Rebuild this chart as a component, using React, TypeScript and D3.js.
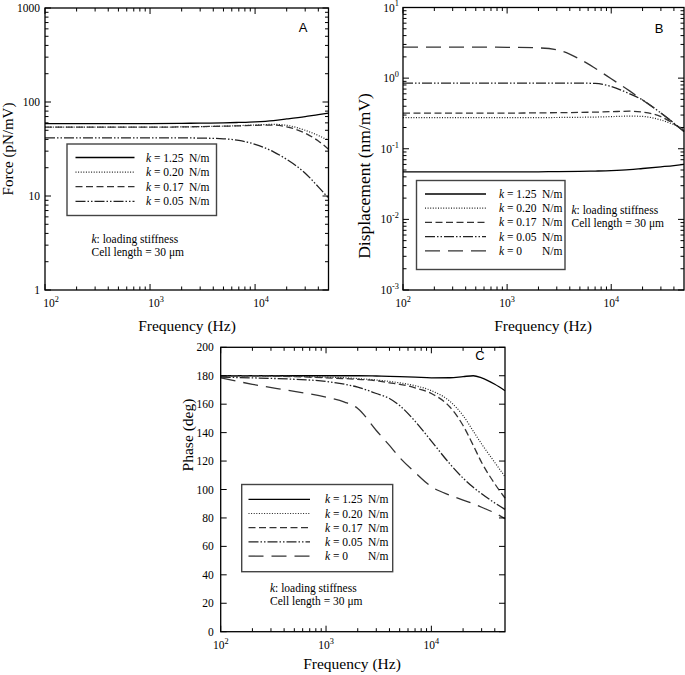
import React from 'react';
import * as d3 from 'd3';

// ---------- data ----------
const FREQ_AB = [100, 200, 500, 1000, 2000, 3000, 5000, 7000, 10000, 15000, 20000, 30000, 40000, 50000];

const FORCE_K125 = [59, 59, 59, 59, 59.3, 59.6, 60, 60.6, 61.5, 63.5, 66, 70, 73.5, 76];
const FORCE_K020 = [54, 54, 54, 54, 54.3, 54.7, 55.3, 56, 57, 57.8, 56.5, 50, 44, 39];
const FORCE_K017 = [54, 54, 54, 54, 54.3, 54.7, 55.3, 55.8, 56.5, 56.8, 54.5, 46.5, 38.5, 31.5];
const FORCE_K005 = [41.5, 41.5, 41.5, 41.5, 41.5, 41.3, 40.6, 39, 35.5, 29.5, 24.5, 17.5, 12.5, 9.5];

const DISP_K125 = [0.047, 0.047, 0.047, 0.047, 0.0472, 0.0474, 0.0478, 0.0483, 0.049, 0.0505, 0.0525, 0.0555, 0.0578, 0.06];
const DISP_K020 = [0.275, 0.275, 0.275, 0.275, 0.276, 0.277, 0.279, 0.281, 0.285, 0.29, 0.287, 0.255, 0.22, 0.19];
const DISP_K017 = [0.32, 0.32, 0.32, 0.32, 0.322, 0.324, 0.327, 0.33, 0.335, 0.34, 0.33, 0.285, 0.225, 0.18];
const DISP_K005 = [0.85, 0.85, 0.85, 0.85, 0.85, 0.85, 0.85, 0.84, 0.76, 0.6, 0.49, 0.32, 0.23, 0.175];
const DISP_K0 = [2.75, 2.75, 2.75, 2.73, 2.68, 2.52, 1.85, 1.38, 0.98, 0.66, 0.49, 0.32, 0.23, 0.175];

const FREQ_C = [100, 200, 500, 1000, 1500, 2000, 3000, 4000, 5000, 7000, 10000, 15000, 20000, 25000, 30000, 40000, 50000];
const PHASE_K125 = [180, 180, 180, 180, 180, 180, 179.8, 179.6, 179.4, 179, 178.5, 178.6, 179.4, 180, 178.5, 174, 169.5];
const PHASE_K020 = [180, 180, 179.6, 179, 178.6, 178, 177, 176, 175, 173, 169.5, 162, 152, 141, 132, 119, 109];
const PHASE_K017 = [180, 180, 179.4, 178.5, 178, 177.5, 176.5, 175, 174, 171.5, 167.5, 158, 145, 131, 119, 104, 94];
const PHASE_K005 = [179, 178.5, 177.5, 176, 174, 172, 167.5, 164, 159, 148, 134, 118, 108, 101.5, 97, 90.5, 86];
const PHASE_K0 = [178.5, 174, 169, 165, 161.5, 157, 141.5, 131, 122.5, 112, 102, 96, 92.6, 90, 87.5, 83.5, 79.5];

const K_LABELS = ['1.25', '0.20', '0.17', '0.05', '0'];
const A_TICKS = [1, 10, 100, 1000];
const B_EXPONENTS = [-3, -2, -1, 0, 1];
const C_TICKS = [0, 20, 40, 60, 80, 100, 120, 140, 160, 180, 200];
const X_EXPONENTS = [2, 3, 4];

// ---------- styles ----------
const DASHES = [undefined, '1,1.6', '7,3.5', '10,2,1.5,2,1.5,2', '15,8'];
const COLORS = ['#000', '#222', '#333', '#222', '#333'];
const SERIF = "'Liberation Serif', 'Times New Roman', Times, serif";
const SANS = "'Liberation Sans', Arial, sans-serif";

type Series = { xs: number[]; ys: number[]; idx: number };

function logMinor(lo: number, hi: number) {
  const minor: number[] = [];
  for (let e = Math.floor(Math.log10(lo)); e <= Math.ceil(Math.log10(hi)); e++) {
    const p = Math.pow(10, e);
    for (let m = 2; m <= 9; m++) {
      const v = m * p;
      if (v > lo * 1.001 && v < hi * 0.999) minor.push(v);
    }
  }
  return minor;
}

function Pow10({ x, y, e, anchor, size }: { x: number; y: number; e: number; anchor: string; size: number }) {
  return (
    <text x={x} y={y} textAnchor={anchor as any} style={{ fontFamily: SERIF }} fontSize={size} fill="#000">
      10<tspan dy={-size * 0.45} fontSize={size * 0.72}>{e}</tspan>
    </text>
  );
}

type PanelProps = {
  box: { x0: number; x1: number; y0: number; y1: number };
  yLog: boolean;
  yDomain: [number, number];
  series: Series[];
  yTickNode: (y: (v: number) => number) => React.ReactNode;
  yMajor: number[];
  yMinor: number[];
  xLabelDx: number;
  letter: string;
  letterPos: [number, number];
  yTitle: string;
  yTitlePos: [number, number];
  yTitleSize: number;
  xTitlePos: [number, number];
  legend: { x0: number; y0: number; x1: number; y1: number; lineX0: number; lineX1: number; textX: number; rowY0: number; rowDy: number; n: number };
  note: [number, number];
};

function Panel(p: PanelProps) {
  const { box } = p;
  const x = d3.scaleLog().domain([100, 50000]).range([box.x0, box.x1]);
  const y: any = p.yLog
    ? d3.scaleLog().domain(p.yDomain).range([box.y1, box.y0])
    : d3.scaleLinear().domain(p.yDomain).range([box.y1, box.y0]);
  const line = d3
    .line<[number, number]>()
    .x((d) => x(d[0]))
    .y((d) => y(d[1]))
    .curve(d3.curveMonotoneX);
  const xMajor = X_EXPONENTS.map((e) => Math.pow(10, e));
  const xMinor = logMinor(100, 50000);
  const MJ = 6;
  const MN = 3.5;
  const tickStroke = { stroke: '#000', strokeWidth: 1 };
  const lg = p.legend;
  const serif = { fontFamily: SERIF };
  return (
    <g>
      {p.series.map((s) => (
        <path
          key={s.idx}
          d={line(s.xs.map((v, i) => [v, s.ys[i]] as [number, number])) || ''}
          fill="none"
          stroke={COLORS[s.idx]}
          strokeWidth={s.idx === 1 ? 1.2 : 1.3}
          strokeDasharray={DASHES[s.idx]}
        />
      ))}
      <rect x={box.x0} y={box.y0} width={box.x1 - box.x0} height={box.y1 - box.y0} fill="none" stroke="#000" strokeWidth={1.3} />
      {xMajor.map((v) => (
        <g key={'xm' + v}>
          <line x1={x(v)} x2={x(v)} y1={box.y1} y2={box.y1 - MJ} {...tickStroke} />
          <line x1={x(v)} x2={x(v)} y1={box.y0} y2={box.y0 + MJ} {...tickStroke} />
        </g>
      ))}
      {xMinor.map((v) => (
        <g key={'xn' + v}>
          <line x1={x(v)} x2={x(v)} y1={box.y1} y2={box.y1 - MN} {...tickStroke} />
          <line x1={x(v)} x2={x(v)} y1={box.y0} y2={box.y0 + MN} {...tickStroke} />
        </g>
      ))}
      {X_EXPONENTS.map((e) => (
        <Pow10 key={'xl' + e} x={x(Math.pow(10, e)) + p.xLabelDx} y={box.y1 + 17} e={e} anchor="middle" size={11.5} />
      ))}
      {p.yMajor.map((v) => (
        <g key={'ym' + v}>
          <line x1={box.x0} x2={box.x0 + MJ} y1={y(v)} y2={y(v)} {...tickStroke} />
          <line x1={box.x1} x2={box.x1 - MJ} y1={y(v)} y2={y(v)} {...tickStroke} />
        </g>
      ))}
      {p.yMinor.map((v) => (
        <g key={'yn' + v}>
          <line x1={box.x0} x2={box.x0 + MN} y1={y(v)} y2={y(v)} {...tickStroke} />
          <line x1={box.x1} x2={box.x1 - MN} y1={y(v)} y2={y(v)} {...tickStroke} />
        </g>
      ))}
      {p.yTickNode(y)}
      <text x={p.xTitlePos[0]} y={p.xTitlePos[1]} textAnchor="middle" style={serif} fontSize={15.5}>
        Frequency (Hz)
      </text>
      <text
        transform={`translate(${p.yTitlePos[0]},${p.yTitlePos[1]}) rotate(-90)`}
        textAnchor="middle"
        style={serif}
        fontSize={p.yTitleSize}
      >
        {p.yTitle}
      </text>
      <text x={p.letterPos[0]} y={p.letterPos[1]} textAnchor="middle" style={{ fontFamily: SANS }} fontSize={13}>
        {p.letter}
      </text>
      <rect x={lg.x0} y={lg.y0} width={lg.x1 - lg.x0} height={lg.y1 - lg.y0} fill="#fff" stroke="#444" strokeWidth={1.4} />
      {K_LABELS.slice(0, lg.n).map((k, i) => {
        const ry = lg.rowY0 + i * lg.rowDy;
        return (
          <g key={'lg' + i}>
            <line x1={lg.lineX0} x2={lg.lineX1} y1={ry} y2={ry} stroke={COLORS[i]} strokeWidth={i === 1 ? 1.2 : 1.3} strokeDasharray={DASHES[i]} />
            <text x={lg.textX} y={ry + 4} style={serif} fontSize={11.5}>
              <tspan fontStyle="italic">k</tspan> = {k}
            </text>
            <text x={lg.textX + 43} y={ry + 4} style={serif} fontSize={11.5}>
              N/m
            </text>
          </g>
        );
      })}
      <text x={p.note[0]} y={p.note[1]} style={serif} fontSize={11.5}>
        <tspan fontStyle="italic">k</tspan>: loading stiffness
      </text>
      <text x={p.note[0]} y={p.note[1] + 13} style={serif} fontSize={11.5}>
        Cell length = 30 μm
      </text>
    </g>
  );
}

export default function App() {
  const boxA = { x0: 45, x1: 328.5, y0: 8, y1: 290 };
  const boxB = { x0: 403, x1: 684, y0: 7.5, y1: 290 };
  const boxC = { x0: 220.7, x1: 505, y0: 347.3, y1: 631.7 };

  const seriesA: Series[] = [FORCE_K125, FORCE_K020, FORCE_K017, FORCE_K005].map((ys, idx) => ({ xs: FREQ_AB, ys, idx }));
  const seriesB: Series[] = [DISP_K125, DISP_K020, DISP_K017, DISP_K005, DISP_K0].map((ys, idx) => ({ xs: FREQ_AB, ys, idx }));
  const seriesC: Series[] = [PHASE_K125, PHASE_K020, PHASE_K017, PHASE_K005, PHASE_K0].map((ys, idx) => ({ xs: FREQ_C, ys, idx }));
  const serif = { fontFamily: SERIF };

  return (
    <svg width={685} height={675} style={{ position: 'absolute', left: 0, top: 0, background: '#fff' }}>
      <rect width={685} height={675} fill="#fff" />
      <Panel
        box={boxA}
        yLog={true}
        yDomain={[1, 1000]}
        series={seriesA}
        yMajor={A_TICKS}
        yMinor={logMinor(1, 1000)}
        yTickNode={(y) =>
          A_TICKS.map((v) => (
            <text key={'ya' + v} x={boxA.x0 - 5} y={y(v) + 4} textAnchor="end" style={serif} fontSize={11.5}>
              {v}
            </text>
          ))
        }
        xLabelDx={6}
        letter="A"
        letterPos={[303, 32]}
        yTitle="Force (pN/mV)"
        yTitlePos={[13, 149]}
        yTitleSize={15}
        xTitlePos={[187, 331]}
        legend={{ x0: 67, y0: 144, x1: 216.5, y1: 215.5, lineX0: 75.5, lineX1: 134.5, textX: 146, rowY0: 157.5, rowDy: 14.6, n: 4 }}
        note={[91.5, 243]}
      />
      <Panel
        box={boxB}
        yLog={true}
        yDomain={[0.001, 10]}
        series={seriesB}
        yMajor={B_EXPONENTS.map((e) => Math.pow(10, e))}
        yMinor={logMinor(0.001, 10)}
        yTickNode={(y) =>
          B_EXPONENTS.map((e) => (
            <Pow10 key={'yb' + e} x={boxB.x0 - 4} y={y(Math.pow(10, e)) + 4} e={e} anchor="end" size={11.5} />
          ))
        }
        xLabelDx={0}
        letter="B"
        letterPos={[659, 33]}
        yTitle="Displacement (nm/mV)"
        yTitlePos={[370, 176]}
        yTitleSize={17.5}
        xTitlePos={[543, 331]}
        legend={{ x0: 416.5, y0: 180.5, x1: 565, y1: 269.5, lineX0: 425, lineX1: 486, textX: 499, rowY0: 194, rowDy: 14.2, n: 5 }}
        note={[571.5, 214]}
      />
      <Panel
        box={boxC}
        yLog={false}
        yDomain={[0, 200]}
        series={seriesC}
        yMajor={C_TICKS}
        yMinor={[]}
        yTickNode={(y) =>
          C_TICKS.map((v) => (
            <text key={'yc' + v} x={boxC.x0 - 7} y={y(v) + 4} textAnchor="end" style={serif} fontSize={11.5}>
              {v}
            </text>
          ))
        }
        xLabelDx={0}
        letter="C"
        letterPos={[480, 360]}
        yTitle="Phase (deg)"
        yTitlePos={[193, 435]}
        yTitleSize={15.5}
        xTitlePos={[352, 669]}
        legend={{ x0: 241.7, y0: 484.5, x1: 392.7, y1: 571.7, lineX0: 248.5, lineX1: 310, textX: 325, rowY0: 499.3, rowDy: 14.2, n: 5 }}
        note={[270, 592]}
      />
    </svg>
  );
}
